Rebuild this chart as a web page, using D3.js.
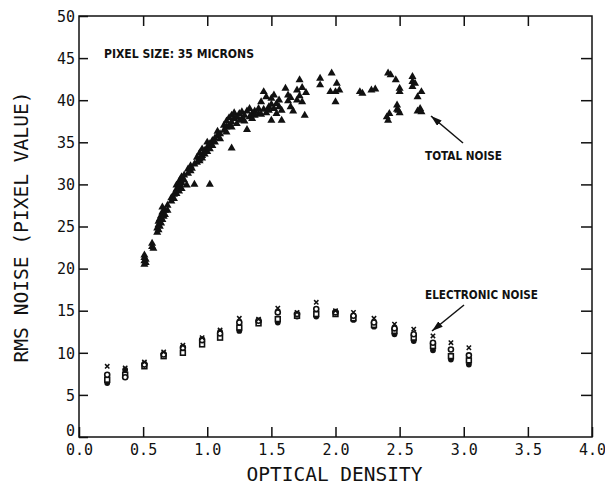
<!DOCTYPE html>
<html>
<head>
<meta charset="utf-8">
<script src="https://cdn.jsdelivr.net/npm/d3@7"></script>
<style>
  html, body { margin: 0; padding: 0; background: #fff; }
  svg { display: block; }
</style>
</head>
<body>
<svg id="chart" width="605" height="488"></svg>
<script>
// ---------------- DATA ----------------
const xTicks = [0.0, 0.5, 1.0, 1.5, 2.0, 2.5, 3.0, 3.5, 4.0];
const yTicks = [0, 5, 10, 15, 20, 25, 30, 35, 40, 45, 50];

// Total noise: [optical density, RMS noise]
const totalNoise = [
  [0.51,20.5],[0.51,20.9],[0.51,21.3],[0.51,21.6],[0.52,20.7],[0.52,21.1],
  [0.57,22.6],[0.57,23.0],[0.58,22.4],
  [0.61,24.3],[0.61,24.8],[0.62,24.6],[0.62,25.2],[0.62,25.6],[0.63,25.0],[0.63,25.9],
  [0.64,25.4],[0.64,26.3],[0.64,26.0],[0.65,26.7],[0.65,27.3],[0.65,25.8],
  [0.66,26.2],[0.66,26.5],[0.67,26.9],[0.67,26.4],[0.69,26.9],[0.69,27.5],
  [0.72,28.0],[0.72,28.4],[0.74,28.3],[0.74,28.8],
  [0.76,28.9],[0.76,29.4],[0.76,29.9],[0.78,29.2],[0.78,30.3],[0.78,29.6],
  [0.79,30.0],[0.79,30.6],[0.80,29.5],[0.80,30.9],[0.80,30.2],
  [0.82,30.5],[0.82,31.1],[0.84,29.9],[0.85,31.3],[0.85,31.8],
  [0.87,31.6],[0.87,32.2],[0.88,31.9],[0.90,30.0],[0.90,32.4],
  [0.92,32.6],[0.92,33.2],[0.94,33.0],[0.94,33.7],[0.94,32.8],
  [0.96,33.4],[0.96,34.2],[0.96,33.1],[0.98,34.0],[0.98,33.6],
  [1.00,34.4],[1.00,35.0],[1.00,33.9],[1.02,30.0],[1.02,34.8],[1.02,34.2],
  [1.04,35.2],[1.04,34.6],[1.06,35.5],[1.06,35.0],[1.08,35.8],[1.08,36.3],
  [1.10,36.0],[1.10,35.4],[1.13,36.4],[1.13,37.0],
  [1.15,36.8],[1.15,37.5],[1.15,36.2],[1.17,37.0],[1.17,37.9],
  [1.19,34.3],[1.19,37.4],[1.19,38.2],[1.19,36.8],
  [1.21,37.8],[1.21,38.5],[1.23,37.2],[1.23,38.0],[1.25,38.4],[1.25,37.6],
  [1.27,37.8],[1.27,38.6],[1.29,38.2],[1.29,37.5],[1.31,36.5],[1.31,38.7],
  [1.33,38.0],[1.33,39.0],[1.35,38.4],[1.35,37.8],[1.37,38.7],[1.37,38.2],
  [1.40,38.4],[1.40,39.0],[1.42,38.3],[1.42,39.8],[1.44,41.0],[1.44,38.9],
  [1.46,38.5],[1.46,40.4],[1.48,39.2],[1.48,38.8],
  [1.50,37.6],[1.50,40.2],[1.50,39.5],[1.52,40.6],[1.52,39.0],
  [1.54,39.6],[1.54,38.4],[1.56,40.0],[1.56,39.2],[1.58,37.6],[1.58,38.8],
  [1.61,41.4],[1.63,40.6],[1.63,39.9],[1.65,40.3],[1.65,39.2],[1.67,38.7],
  [1.70,41.2],[1.70,40.0],[1.72,42.4],[1.72,40.5],[1.74,41.5],[1.74,39.8],
  [1.76,38.2],[1.77,40.9],
  [1.88,42.6],[1.88,41.8],[1.96,41.0],[1.97,43.2],[2.00,41.0],[2.00,39.8],
  [2.01,42.0],[2.03,41.2],
  [2.19,41.0],[2.21,40.8],[2.28,41.2],[2.31,41.3],
  [2.40,38.0],[2.41,43.2],[2.41,37.6],[2.42,38.4],[2.43,43.0],[2.47,42.4],
  [2.48,39.4],[2.48,38.9],[2.49,38.8],[2.50,41.4],[2.50,41.0],[2.50,38.5],
  [2.60,42.8],[2.60,42.2],[2.60,41.6],[2.62,42.0],[2.64,40.4],[2.64,38.7],
  [2.66,39.0],[2.67,41.0],[2.67,38.6]
];

// Electronic noise: shared optical densities and four measurement series
const elecOD      = [0.22,0.36,0.51,0.66,0.81,0.96,1.10,1.25,1.40,1.55,1.70,1.85,2.00,2.14,2.30,2.46,2.61,2.76,2.90,3.04];
const elecCross   = [8.4, 8.2, 8.9,10.1,10.9,11.8,12.7,14.1,14.0,15.3,14.8,16.0,15.0,14.8,14.1,13.4,12.8,12.0,11.2,10.6];
const elecCircle  = [7.4, 7.1, 8.6, 9.8,10.6,11.5,12.3,13.6,13.8,14.8,14.6,15.2,14.8,14.4,13.6,12.9,12.2,11.2,10.4, 9.7];
const elecSquare  = [6.8, 7.4, 8.4, 9.6,10.0,11.0,11.8,13.0,13.5,14.0,14.4,14.6,14.6,14.1,13.3,12.6,11.8,10.8, 9.6, 9.1];
const elecFilled  = [6.4, 8.0, 8.7, 9.9,10.7,11.6,12.5,12.6,13.7,13.6,14.3,14.3,14.9,13.9,13.1,12.2,11.4,10.3, 9.2, 8.6];

// ---------------- CHART ----------------
const svg = d3.select("#chart");
const L = 79, R = 592, T = 16, B = 437;
const x = d3.scaleLinear().domain([0, 4]).range([L, R]);
const y = d3.scaleLinear().domain([0, 50]).range([B, T]);
const ink = "#111";
const monoFont = "'DejaVu Sans Mono', 'Liberation Mono', monospace";
const labFont = "'DejaVu Sans Condensed', 'DejaVu Sans', sans-serif";

// Axes (ticks pointing inward)
const styleAxis = g => {
  g.select(".domain").remove();
  g.selectAll(".tick line").attr("stroke", ink).attr("stroke-width", 1.5);
  g.selectAll(".tick text").attr("fill", ink).style("font-family", monoFont);
};

svg.append("g").attr("transform", `translate(0,${B})`)
  .call(d3.axisBottom(x).tickValues(xTicks).tickSizeInner(-10).tickSizeOuter(0)
        .tickPadding(7).tickFormat(d3.format(".1f")))
  .call(styleAxis)
  .call(g => g.selectAll(".tick text").style("font-size", "15px"));

svg.append("g").attr("transform", `translate(0,${T})`)
  .call(d3.axisTop(x).tickValues(xTicks.slice(1, -1)).tickSizeInner(-10).tickSizeOuter(0).tickFormat(""))
  .call(styleAxis);

svg.append("g").attr("transform", `translate(${L},0)`)
  .call(d3.axisLeft(y).tickValues(yTicks).tickSizeInner(-9).tickSizeOuter(0).tickPadding(4))
  .call(styleAxis)
  .call(g => g.selectAll(".tick text").style("font-size", "15px")
        .attr("dy", d => d === 0 ? "-0.12em" : "0.35em"));

svg.append("g").attr("transform", `translate(${R},0)`)
  .call(d3.axisRight(y).tickValues(yTicks.slice(1, -1)).tickSizeInner(-11).tickSizeOuter(0).tickFormat(""))
  .call(styleAxis);

// Frame
svg.append("rect").attr("x", L).attr("y", T).attr("width", R - L).attr("height", B - T)
  .attr("fill", "none").attr("stroke", ink).attr("stroke-width", 1.5);

// Total noise triangles
const tri = d3.symbol().type(d3.symbolTriangle).size(28);
svg.append("g").selectAll("path").data(totalNoise).join("path")
  .attr("d", tri)
  .attr("transform", d => `translate(${x(d[0])},${y(d[1])})`)
  .attr("fill", ink);

// Electronic noise
const eg = svg.append("g");
const pts = arr => elecOD.map((od, i) => [od, arr[i]]);
eg.selectAll("circle.f").data(pts(elecFilled)).join("circle").attr("class", "f")
  .attr("cx", d => x(d[0])).attr("cy", d => y(d[1])).attr("r", 2.9).attr("fill", ink);
eg.selectAll("rect.s").data(pts(elecSquare)).join("rect").attr("class", "s")
  .attr("x", d => x(d[0]) - 2.4).attr("y", d => y(d[1]) - 2.4).attr("width", 4.8).attr("height", 4.8)
  .attr("fill", "#fff").attr("stroke", ink).attr("stroke-width", 1.6);
eg.selectAll("circle.c").data(pts(elecCircle)).join("circle").attr("class", "c")
  .attr("cx", d => x(d[0])).attr("cy", d => y(d[1])).attr("r", 2.5)
  .attr("fill", "#fff").attr("stroke", ink).attr("stroke-width", 1.6);
const cross = d3.symbol().type(d3.symbolX).size(14);
eg.selectAll("path.x").data(pts(elecCross)).join("path").attr("class", "x")
  .attr("d", cross)
  .attr("transform", d => `translate(${x(d[0])},${y(d[1])})`)
  .attr("fill", "none").attr("stroke", ink).attr("stroke-width", 1.5);

// Axis titles
svg.append("text").attr("x", (L + R) / 2 - 1).attr("y", 481)
  .attr("text-anchor", "middle").attr("fill", ink)
  .style("font-family", monoFont).style("font-size", "20px")
  .attr("textLength", 176).attr("lengthAdjust", "spacingAndGlyphs")
  .text("OPTICAL DENSITY");
svg.append("text").attr("transform", `translate(28,227) rotate(-90)`)
  .attr("text-anchor", "middle").attr("fill", ink)
  .style("font-family", monoFont).style("font-size", "20px")
  .attr("textLength", 271).attr("lengthAdjust", "spacingAndGlyphs")
  .text("RMS NOISE (PIXEL VALUE)");

// Annotations
const note = (tx, ty, len, str) => svg.append("text").attr("x", tx).attr("y", ty)
  .attr("fill", ink).style("font-family", labFont).style("font-size", "12.5px")
  .style("font-weight", "bold")
  .attr("textLength", len).attr("lengthAdjust", "spacingAndGlyphs").text(str);
note(104, 58, 150, "PIXEL SIZE:  35 MICRONS");
note(425, 160, 77, "TOTAL NOISE");
note(425, 299, 113, "ELECTRONIC NOISE");

// Arrows
svg.append("defs").append("marker").attr("id", "ah")
  .attr("markerUnits", "userSpaceOnUse").attr("markerWidth", 11).attr("markerHeight", 7)
  .attr("refX", 11).attr("refY", 3.5).attr("orient", "auto")
  .append("path").attr("d", "M0,0 L11,3.5 L0,7 Z").attr("fill", ink);
svg.append("line").attr("x1", 463).attr("y1", 143).attr("x2", 431).attr("y2", 116)
  .attr("stroke", ink).attr("stroke-width", 1.5).attr("marker-end", "url(#ah)");
svg.append("line").attr("x1", 464).attr("y1", 305).attr("x2", 432).attr("y2", 331)
  .attr("stroke", ink).attr("stroke-width", 1.5).attr("marker-end", "url(#ah)");
</script>
</body>
</html>
